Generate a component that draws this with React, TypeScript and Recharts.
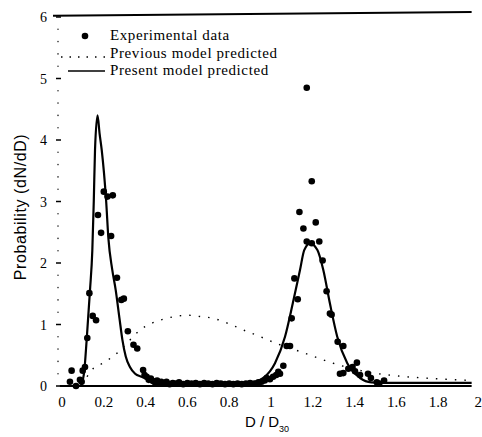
import {
  ComposedChart,
  Legend,
  Line,
  ReferenceLine,
  Scatter,
  XAxis,
  YAxis,
} from 'recharts';

// experimental points, D/D30 and probability
const expD = [
  0.038, 0.046, 0.067, 0.086, 0.094, 0.099, 0.11, 0.121, 0.131, 0.147, 0.163,
  0.172, 0.187, 0.2, 0.218, 0.235, 0.243, 0.263, 0.284, 0.296, 0.315, 0.342,
  0.36, 0.388, 0.395, 0.405, 0.415, 0.425, 0.435, 0.445, 0.455, 0.465, 0.475,
  0.49, 0.5, 0.515, 0.53, 0.545, 0.56, 0.58, 0.6, 0.62, 0.64, 0.66, 0.68, 0.7,
  0.72, 0.74, 0.76, 0.78, 0.8, 0.82, 0.84, 0.86, 0.88, 0.9, 0.92, 0.94, 0.955,
  0.97, 0.98, 0.995, 1.01, 1.025, 1.035, 1.043, 1.059, 1.075, 1.091, 1.099,
  1.112, 1.128, 1.136, 1.155, 1.171, 1.171, 1.195, 1.195, 1.214, 1.231, 1.247,
  1.266, 1.282, 1.29, 1.319, 1.346, 1.33, 1.346, 1.37, 1.39, 1.411, 1.402,
  1.426, 1.464, 1.478, 1.506, 1.518, 1.541,
];
const expP = [
  0.07, 0.25, 0.0, 0.1, 0.07, 0.25, 0.31, 0.78, 1.51, 1.14, 1.07, 2.78, 2.49,
  3.16, 3.08, 2.44, 3.1, 1.76, 1.4, 1.42, 0.89, 0.67, 0.61, 0.26, 0.18, 0.15,
  0.1, 0.12, 0.08, 0.06, 0.09, 0.05, 0.07, 0.04, 0.07, 0.03, 0.05, 0.04, 0.06,
  0.03, 0.05, 0.04, 0.05, 0.03, 0.05, 0.04, 0.03, 0.05, 0.04, 0.03, 0.04, 0.03,
  0.04, 0.03, 0.04, 0.05, 0.04, 0.06, 0.07, 0.09, 0.13, 0.11, 0.15, 0.18, 0.23,
  0.2, 0.33, 0.65, 0.65, 1.1, 1.75, 1.41, 2.83, 2.56, 4.85, 2.35, 3.33, 2.32,
  2.66, 2.35, 2.04, 1.54, 1.18, 1.16, 0.72, 0.65, 0.2, 0.21, 0.28, 0.31, 0.38,
  0.24, 0.18, 0.2, 0.13, 0.06, 0.04, 0.09,
];

// present model (solid)
const presentD = [
  0.09, 0.1, 0.107, 0.118, 0.134, 0.145, 0.152, 0.158, 0.17, 0.18, 0.19, 0.211,
  0.222, 0.24, 0.257, 0.275, 0.289, 0.305, 0.325, 0.35, 0.381, 0.42, 0.47,
  0.55, 0.65, 0.75, 0.85, 0.9, 0.963, 1.019, 1.067, 1.104, 1.139, 1.159,
  1.187, 1.222, 1.25, 1.282, 1.317, 1.365, 1.426, 1.48, 1.6, 1.96,
];
const presentP = [
  0.0, 0.1, 0.26, 0.75, 1.56, 2.2, 3.0, 3.84, 4.4, 4.1, 3.84, 3.02, 2.4, 1.9,
  1.56, 1.1, 0.75, 0.48, 0.31, 0.2, 0.15, 0.09, 0.05, 0.04, 0.035, 0.035, 0.04,
  0.05, 0.13, 0.37, 0.8, 1.34, 1.89, 2.21, 2.32, 2.21, 1.89, 1.34, 0.8, 0.37,
  0.13, 0.06, 0.05, 0.05,
];

// previous model (dotted)
const previousD = [
  0.12, 0.134, 0.2, 0.262, 0.32, 0.373, 0.43, 0.5, 0.604, 0.66, 0.724, 0.8,
  0.868, 0.95, 1.027, 1.139, 1.298, 1.458, 1.617, 1.78, 1.96,
];
const previousP = [
  0.15, 0.23, 0.38, 0.53, 0.73, 0.91, 1.02, 1.1, 1.15, 1.13, 1.1, 1.01, 0.91,
  0.8, 0.69, 0.56, 0.37, 0.23, 0.16, 0.12, 0.09,
];

const xTicks = [0, 0.2, 0.4, 0.6, 0.8, 1, 1.2, 1.4, 1.6, 1.8, 2];
const xTickLabels = ['0', '0.2', '0.4', '0.6', '0.8', '1', '1.2', '1.4', '1.6', '1.8', '2'];
const yTicks = Array.from({ length: 31 }, (_, i) => Math.round(i * 2) / 10);

const expData = expD.map((x, i) => ({ x, y: expP[i] }));
const presentData = presentD.map((x, i) => ({ x, y: presentP[i] }));
const previousData = previousD.map((x, i) => ({ x, y: previousP[i] }));

const serif = 'Liberation Serif, Times New Roman, Times, serif';
const sans = 'Liberation Sans, Arial, sans-serif';

const LeftTick = ({ x, y, payload }: any) => {
  const v = payload.value;
  if (Number.isInteger(v)) {
    return (
      <g>
        <line x1={x - 6} x2={x - 1} y1={y} y2={y} stroke='#000' strokeWidth={1.5} />
        <text x={x - 15} y={y + 5} textAnchor='end' style={{ fontFamily: serif }} fontSize={14} fill='#000'>
          {v}
        </text>
      </g>
    );
  }
  return <circle cx={x - 4} cy={y} r={0.8} fill='#333' />;
};

const RightTick = ({ x, y, payload }: any) => {
  const v = payload.value;
  if (Number.isInteger(v)) {
    if (v === 6) return null;
    return <line x1={x - 15} x2={x - 9} y1={y} y2={y} stroke='#000' strokeWidth={1.5} />;
  }
  return <circle cx={x - 11} cy={y} r={0.8} fill='#555' />;
};

const BottomTick = ({ x, y, index }: any) => {
  const last = index === xTickLabels.length - 1;
  return (
    <text
      x={last ? x + 2 : x}
      y={y + 21}
      textAnchor={last ? 'end' : 'middle'}
      style={{ fontFamily: serif }}
      fontSize={15}
      fill='#000'
    >
      {xTickLabels[index]}
    </text>
  );
};

const XTitle = ({ viewBox }: any) => {
  const cx = viewBox.x + 205;
  return (
    <text x={cx} y={viewBox.y + 41} textAnchor='middle' style={{ fontFamily: sans }} fontSize={15} fill='#000'>
      D / D
      <tspan fontSize={9} dy={5}>30</tspan>
    </text>
  );
};

const YTitle = () => (
  <text
    x={20}
    y={207}
    transform='rotate(-90, 20, 207)'
    textAnchor='middle'
    dominantBaseline='central'
    style={{ fontFamily: sans, letterSpacing: 0.6 }}
    fontSize={16}
    fill='#000'
  >
    Probability (dN/dD)
  </text>
);

const rowStyle = { display: 'flex', alignItems: 'center', height: 17.5 };

const renderLegend = () => (
  <div style={{ fontFamily: serif, fontSize: 15, lineHeight: '17px', letterSpacing: 0.6, color: '#000' }}>
    <div style={rowStyle}>
      <svg width={52} height={17}>
        <circle cx={30} cy={9} r={3.3} fill='#000' />
      </svg>
      <span style={{ marginLeft: 3 }}>Experimental data</span>
    </div>
    <div style={rowStyle}>
      <svg width={52} height={17}>
        <line x1={6} x2={50} y1={12} y2={12} stroke='#000' strokeWidth={1.3} strokeDasharray='1.5 7' />
      </svg>
      <span style={{ marginLeft: 3 }}>Previous model predicted</span>
    </div>
    <div style={rowStyle}>
      <svg width={52} height={17}>
        <line x1={13} x2={50} y1={9} y2={9} stroke='#000' strokeWidth={1.5} />
      </svg>
      <span style={{ marginLeft: 3 }}>Present model predicted</span>
    </div>
  </div>
);

const Dot = ({ cx, cy }: any) => <circle cx={cx} cy={cy} r={3.3} fill='#000' />;

export default function App() {
  return (
    <div style={{ position: 'absolute', left: 0, top: 0, background: '#fff' }}>
      <ComposedChart
        width={482}
        height={437}
        margin={{ top: 17, right: 0, bottom: 0, left: 22 }}
      >
        <XAxis
          dataKey='x'
          type='number'
          domain={[0, 2]}
          ticks={xTicks}
          axisLine={false}
          tickLine={false}
          tickSize={0}
          tickMargin={0}
          height={51}
          tick={<BottomTick />}
          interval={0}
          label={<XTitle />}
        />
        <YAxis
          yAxisId='l'
          type='number'
          domain={[0, 6]}
          ticks={yTicks}
          axisLine={false}
          tickLine={false}
          tickSize={0}
          tickMargin={0}
          width={40}
          interval={0}
          tick={<LeftTick />}
          label={<YTitle />}
        />
        <YAxis
          yAxisId='r'
          orientation='right'
          type='number'
          domain={[0, 6]}
          ticks={yTicks}
          axisLine={false}
          tickLine={false}
          tickSize={0}
          tickMargin={0}
          width={2}
          interval={0}
          tick={<RightTick />}
        />
        <ReferenceLine
          yAxisId='l'
          segment={[{ x: -0.043, y: 6.02 }, { x: 1.96, y: 6.08 }]}
          stroke='#000'
          strokeWidth={2}
          ifOverflow='visible'
        />
        <ReferenceLine
          yAxisId='l'
          segment={[{ x: -0.01, y: 0 }, { x: 1.96, y: 0 }]}
          stroke='#000'
          strokeWidth={2}
          ifOverflow='visible'
        />
        <Line
          yAxisId='l'
          data={previousData}
          dataKey='y'
          type='monotone'
          stroke='#000'
          strokeWidth={1.4}
          strokeDasharray='1.5 8'
          dot={false}
          activeDot={false}
          isAnimationActive={false}
        />
        <Line
          yAxisId='l'
          data={presentData}
          dataKey='y'
          type='monotone'
          stroke='#000'
          strokeWidth={2.2}
          dot={false}
          activeDot={false}
          isAnimationActive={false}
        />
        <Scatter
          yAxisId='l'
          data={expData}
          dataKey='y'
          fill='#000'
          shape={<Dot />}
          isAnimationActive={false}
        />
        <Legend
          content={renderLegend}
          layout='horizontal'
          verticalAlign='middle'
          align='center'
          wrapperStyle={{ top: 27, left: 55, width: 'auto', height: 'auto' }}
        />
      </ComposedChart>
    </div>
  );
}
